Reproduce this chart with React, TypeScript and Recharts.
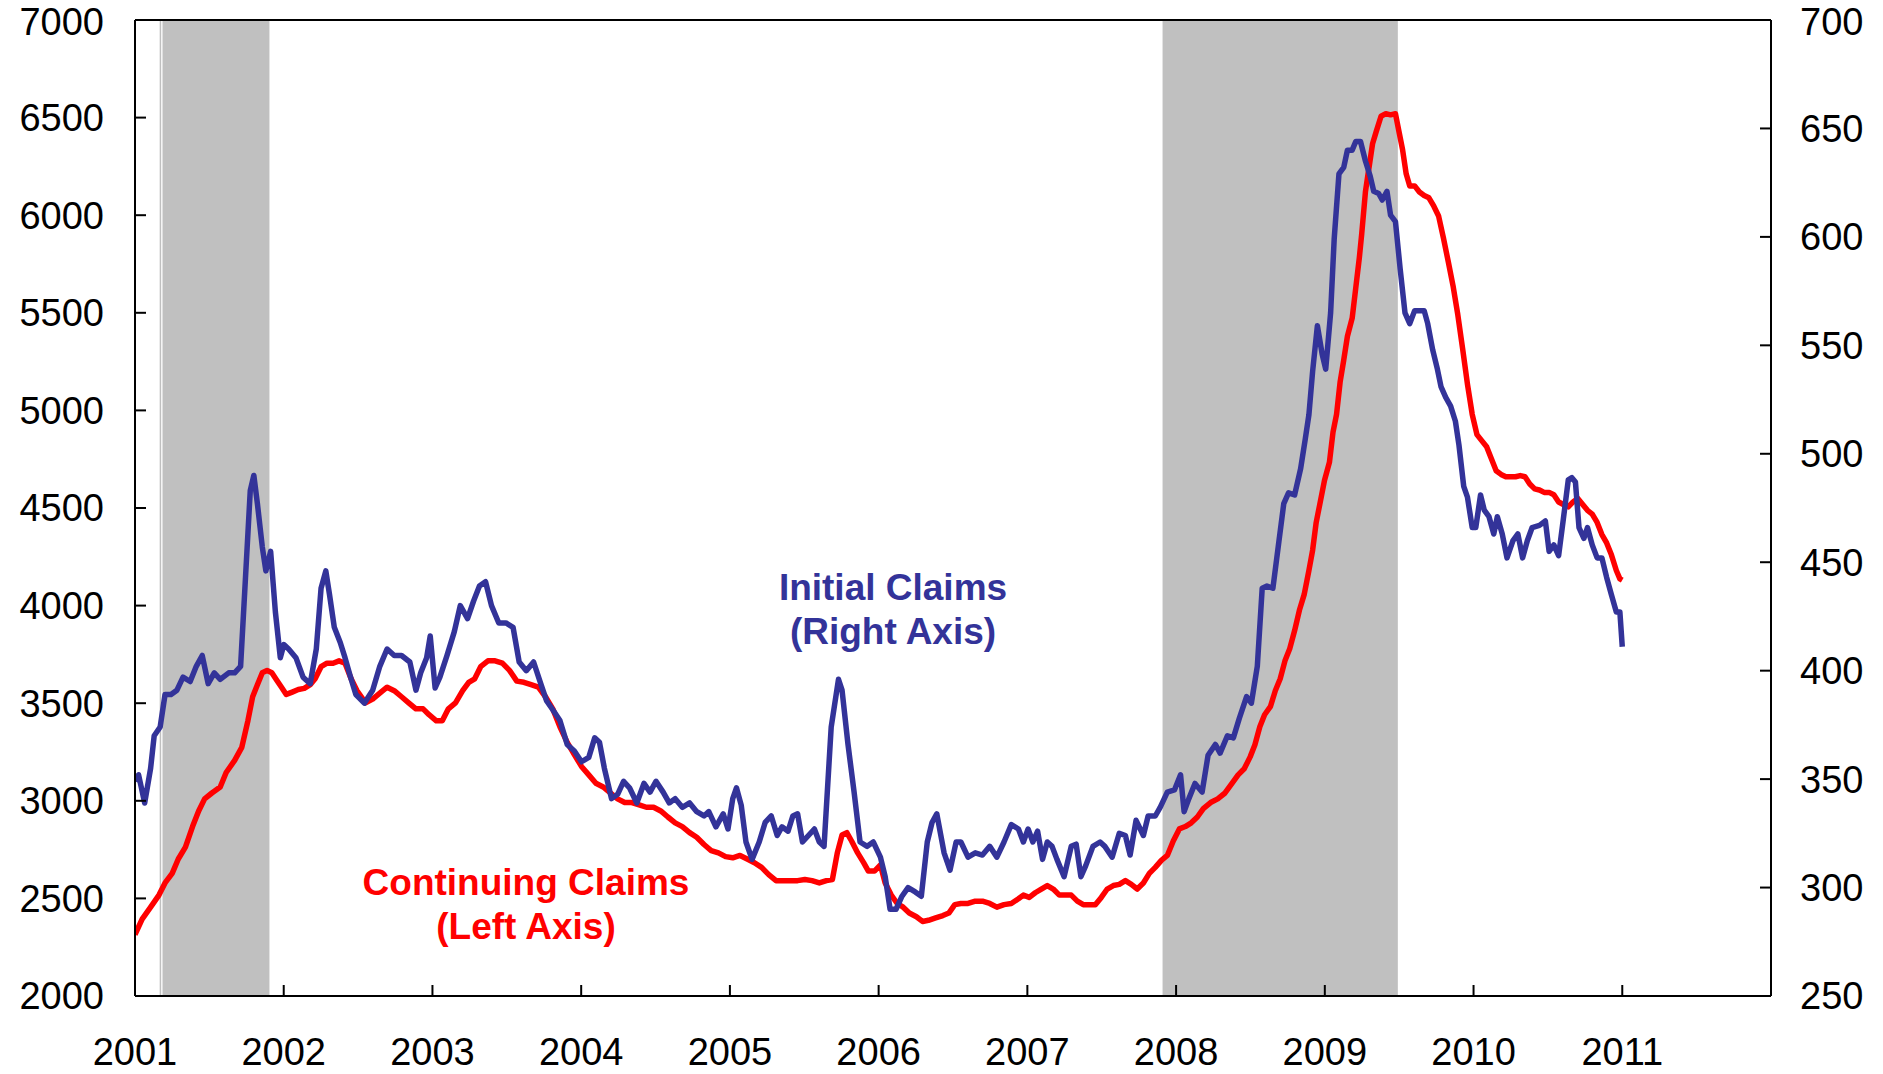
import React from "react";
import {
  LineChart,
  Line,
  XAxis,
  YAxis,
  ReferenceArea,
  ReferenceLine,
} from "recharts";

// [decimal year, thousands]
const initialClaims: [number, number][] = [
  [2001.0, 349], [2001.024, 352], [2001.065, 339], [2001.105, 355], [2001.129, 370],
  [2001.169, 374], [2001.202, 389], [2001.242, 389], [2001.282, 391], [2001.323, 397],
  [2001.371, 395], [2001.412, 402], [2001.452, 407], [2001.492, 394], [2001.533, 399],
  [2001.573, 396], [2001.63, 399], [2001.67, 399], [2001.71, 402], [2001.743, 443],
  [2001.775, 483], [2001.799, 490], [2001.823, 477], [2001.856, 457], [2001.88, 446],
  [2001.912, 455], [2001.944, 427], [2001.977, 406], [2002.001, 412], [2002.033, 410],
  [2002.082, 406], [2002.13, 397], [2002.178, 394], [2002.219, 410], [2002.251, 438],
  [2002.283, 446], [2002.308, 435], [2002.34, 420], [2002.38, 413], [2002.412, 406],
  [2002.445, 398], [2002.485, 389], [2002.542, 385], [2002.598, 391], [2002.646, 402],
  [2002.695, 410], [2002.743, 407], [2002.792, 407], [2002.848, 404], [2002.889, 391],
  [2002.921, 399], [2002.961, 406], [2002.985, 416], [2003.018, 392], [2003.05, 397],
  [2003.098, 407], [2003.147, 418], [2003.187, 430], [2003.236, 424], [2003.276, 432],
  [2003.316, 439], [2003.357, 441], [2003.397, 430], [2003.446, 422], [2003.494, 422],
  [2003.542, 420], [2003.583, 404], [2003.631, 400], [2003.68, 404], [2003.728, 394],
  [2003.768, 386], [2003.809, 382], [2003.857, 377], [2003.906, 366], [2003.954, 363],
  [2004.002, 358], [2004.051, 360], [2004.091, 369], [2004.123, 367], [2004.156, 355],
  [2004.204, 341], [2004.245, 343], [2004.285, 349], [2004.325, 346], [2004.374, 339],
  [2004.422, 348], [2004.463, 344], [2004.503, 349], [2004.551, 344], [2004.592, 339],
  [2004.632, 341], [2004.68, 337], [2004.729, 339], [2004.777, 335], [2004.826, 333],
  [2004.858, 335], [2004.906, 328], [2004.955, 334], [2004.987, 327], [2005.019, 341],
  [2005.044, 346], [2005.076, 338], [2005.108, 321], [2005.149, 313], [2005.197, 321],
  [2005.237, 330], [2005.278, 333], [2005.318, 324], [2005.35, 328], [2005.391, 326],
  [2005.423, 333], [2005.455, 334], [2005.488, 321], [2005.528, 324], [2005.568, 327],
  [2005.601, 321], [2005.633, 319], [2005.681, 374], [2005.73, 396], [2005.754, 391],
  [2005.794, 366], [2005.835, 344], [2005.875, 321], [2005.923, 319], [2005.964, 321],
  [2006.012, 314], [2006.044, 305], [2006.077, 290], [2006.117, 290], [2006.157, 296],
  [2006.198, 300], [2006.246, 298], [2006.287, 296], [2006.327, 321], [2006.359, 330],
  [2006.391, 334], [2006.44, 316], [2006.48, 308], [2006.521, 321], [2006.553, 321],
  [2006.601, 314], [2006.65, 316], [2006.698, 315], [2006.747, 319], [2006.795, 314],
  [2006.843, 321], [2006.892, 329], [2006.94, 327], [2006.973, 321], [2007.005, 327],
  [2007.037, 321], [2007.069, 326], [2007.102, 313], [2007.134, 321], [2007.166, 319],
  [2007.199, 313], [2007.247, 305], [2007.295, 319], [2007.328, 320], [2007.36, 305],
  [2007.392, 310], [2007.441, 319], [2007.489, 321], [2007.521, 319], [2007.57, 314],
  [2007.618, 325], [2007.659, 324], [2007.691, 315], [2007.731, 331], [2007.78, 324],
  [2007.812, 333], [2007.86, 333], [2007.893, 337], [2007.941, 344], [2007.989, 345],
  [2008.03, 352], [2008.054, 335], [2008.086, 341], [2008.127, 348], [2008.175, 344],
  [2008.215, 361], [2008.264, 366], [2008.296, 362], [2008.345, 370], [2008.385, 369],
  [2008.425, 378], [2008.474, 388], [2008.506, 385], [2008.546, 402], [2008.579, 438],
  [2008.611, 439], [2008.651, 438], [2008.692, 460], [2008.724, 477], [2008.756, 482],
  [2008.797, 481], [2008.837, 493], [2008.869, 507], [2008.893, 518], [2008.918, 538],
  [2008.95, 559], [2008.982, 546], [2009.006, 539], [2009.039, 565], [2009.063, 599],
  [2009.095, 629], [2009.127, 632], [2009.152, 640], [2009.184, 640], [2009.208, 644],
  [2009.24, 644], [2009.273, 635], [2009.305, 628], [2009.329, 621], [2009.362, 620],
  [2009.386, 617], [2009.418, 621], [2009.442, 610], [2009.475, 607], [2009.507, 585],
  [2009.539, 565], [2009.571, 560], [2009.604, 566], [2009.636, 566], [2009.668, 566],
  [2009.692, 560], [2009.725, 548], [2009.757, 539], [2009.781, 531], [2009.813, 526],
  [2009.846, 522], [2009.878, 515], [2009.902, 504], [2009.934, 485], [2009.959, 480],
  [2009.991, 466], [2010.015, 466], [2010.047, 481], [2010.072, 474], [2010.104, 471],
  [2010.136, 463], [2010.16, 471], [2010.193, 463], [2010.225, 452], [2010.265, 460],
  [2010.298, 463], [2010.33, 452], [2010.362, 460], [2010.394, 466], [2010.443, 467],
  [2010.483, 469], [2010.508, 455], [2010.54, 458], [2010.572, 453], [2010.604, 470],
  [2010.637, 488], [2010.661, 489], [2010.685, 487], [2010.709, 466], [2010.742, 461],
  [2010.766, 466], [2010.798, 458], [2010.831, 452], [2010.863, 452], [2010.895, 443],
  [2010.927, 435], [2010.96, 427], [2010.984, 427], [2011.0, 411],
];

const continuingClaims: [number, number][] = [
  [2001.0, 2314], [2001.048, 2394], [2001.105, 2455], [2001.161, 2517], [2001.202, 2579],
  [2001.25, 2628], [2001.291, 2702], [2001.339, 2763], [2001.387, 2868], [2001.428, 2948],
  [2001.468, 3010], [2001.517, 3040], [2001.573, 3071], [2001.613, 3145], [2001.67, 3207],
  [2001.718, 3274], [2001.759, 3410], [2001.791, 3533], [2001.823, 3595], [2001.856, 3656],
  [2001.888, 3668], [2001.92, 3656], [2001.952, 3619], [2001.985, 3582], [2002.017, 3545],
  [2002.057, 3557], [2002.098, 3570], [2002.138, 3576], [2002.178, 3595], [2002.211, 3625],
  [2002.251, 3687], [2002.291, 3705], [2002.332, 3705], [2002.372, 3717], [2002.412, 3705],
  [2002.453, 3625], [2002.493, 3564], [2002.55, 3502], [2002.598, 3521], [2002.646, 3551],
  [2002.695, 3582], [2002.743, 3564], [2002.792, 3533], [2002.84, 3502], [2002.889, 3471],
  [2002.937, 3471], [2002.977, 3441], [2003.026, 3410], [2003.066, 3410], [2003.107, 3471],
  [2003.155, 3502], [2003.203, 3564], [2003.244, 3607], [2003.284, 3625], [2003.324, 3687],
  [2003.373, 3717], [2003.421, 3717], [2003.47, 3705], [2003.518, 3668], [2003.567, 3613],
  [2003.615, 3607], [2003.663, 3595], [2003.712, 3582], [2003.76, 3533], [2003.809, 3471],
  [2003.857, 3379], [2003.906, 3299], [2003.954, 3237], [2004.002, 3176], [2004.051, 3133],
  [2004.099, 3090], [2004.148, 3071], [2004.196, 3040], [2004.245, 3010], [2004.293, 2991],
  [2004.341, 2991], [2004.39, 2979], [2004.438, 2967], [2004.487, 2967], [2004.535, 2948],
  [2004.583, 2917], [2004.632, 2887], [2004.68, 2868], [2004.729, 2837], [2004.777, 2813],
  [2004.826, 2776], [2004.874, 2745], [2004.923, 2733], [2004.971, 2714], [2005.019, 2708],
  [2005.068, 2720], [2005.116, 2702], [2005.165, 2683], [2005.213, 2659], [2005.261, 2622],
  [2005.31, 2591], [2005.358, 2591], [2005.407, 2591], [2005.455, 2591], [2005.504, 2597],
  [2005.552, 2591], [2005.601, 2579], [2005.649, 2591], [2005.689, 2597], [2005.722, 2733],
  [2005.754, 2825], [2005.786, 2837], [2005.818, 2794], [2005.859, 2733], [2005.899, 2683],
  [2005.931, 2640], [2005.972, 2640], [2006.012, 2671], [2006.044, 2579], [2006.085, 2517],
  [2006.125, 2474], [2006.165, 2455], [2006.206, 2425], [2006.254, 2406], [2006.295, 2382],
  [2006.335, 2388], [2006.383, 2400], [2006.432, 2412], [2006.472, 2425], [2006.512, 2468],
  [2006.553, 2474], [2006.601, 2474], [2006.65, 2486], [2006.698, 2486], [2006.747, 2474],
  [2006.795, 2455], [2006.843, 2468], [2006.892, 2474], [2006.94, 2498], [2006.973, 2517],
  [2007.013, 2505], [2007.053, 2529], [2007.094, 2548], [2007.134, 2566], [2007.174, 2548],
  [2007.215, 2517], [2007.255, 2517], [2007.295, 2517], [2007.336, 2486], [2007.376, 2468],
  [2007.416, 2468], [2007.457, 2468], [2007.497, 2505], [2007.537, 2548], [2007.578, 2566],
  [2007.618, 2572], [2007.659, 2591], [2007.699, 2572], [2007.739, 2548], [2007.78, 2579],
  [2007.82, 2628], [2007.86, 2659], [2007.901, 2695], [2007.941, 2720], [2007.981, 2794],
  [2008.022, 2856], [2008.062, 2868], [2008.102, 2887], [2008.143, 2917], [2008.183, 2960],
  [2008.232, 2991], [2008.28, 3010], [2008.329, 3040], [2008.377, 3090], [2008.417, 3133],
  [2008.458, 3164], [2008.498, 3225], [2008.53, 3287], [2008.563, 3379], [2008.595, 3441],
  [2008.635, 3484], [2008.667, 3564], [2008.7, 3625], [2008.732, 3717], [2008.764, 3779],
  [2008.797, 3872], [2008.829, 3976], [2008.861, 4056], [2008.893, 4180], [2008.918, 4284],
  [2008.942, 4426], [2008.966, 4518], [2008.998, 4642], [2009.031, 4734], [2009.055, 4888],
  [2009.079, 4980], [2009.103, 5146], [2009.127, 5257], [2009.152, 5380], [2009.184, 5473],
  [2009.208, 5627], [2009.232, 5781], [2009.248, 5904], [2009.273, 6119], [2009.297, 6243],
  [2009.321, 6366], [2009.345, 6427], [2009.378, 6507], [2009.41, 6520], [2009.442, 6514],
  [2009.475, 6520], [2009.499, 6427], [2009.523, 6335], [2009.547, 6212], [2009.571, 6150],
  [2009.604, 6150], [2009.636, 6119], [2009.668, 6101], [2009.7, 6089], [2009.733, 6046],
  [2009.765, 5996], [2009.797, 5885], [2009.83, 5762], [2009.862, 5639], [2009.894, 5491],
  [2009.926, 5319], [2009.959, 5134], [2009.991, 4980], [2010.023, 4876], [2010.055, 4845],
  [2010.088, 4814], [2010.12, 4752], [2010.152, 4691], [2010.185, 4672], [2010.217, 4660],
  [2010.249, 4660], [2010.282, 4660], [2010.314, 4666], [2010.346, 4660], [2010.378, 4623],
  [2010.411, 4598], [2010.443, 4592], [2010.475, 4580], [2010.508, 4580], [2010.54, 4568],
  [2010.572, 4531], [2010.604, 4518], [2010.637, 4506], [2010.669, 4531], [2010.701, 4549],
  [2010.734, 4518], [2010.766, 4488], [2010.798, 4469], [2010.831, 4426], [2010.863, 4364],
  [2010.895, 4321], [2010.927, 4260], [2010.96, 4180], [2010.984, 4137], [2011.0, 4130],
];

const yearTicks = [2001, 2002, 2003, 2004, 2005, 2006, 2007, 2008, 2009, 2010, 2011];
const leftTicks = [2000, 2500, 3000, 3500, 4000, 4500, 5000, 5500, 6000, 6500, 7000];
const rightTicks = [250, 300, 350, 400, 450, 500, 550, 600, 650, 700];

// recession shading (NBER), decimal years
const recessions: [number, number][] = [
  [2001.185, 2001.904],
  [2007.909, 2009.491],
];

const BLUE = "#333399";
const RED = "#FF0000";
const GRAY = "#C0C0C0";
const FONT = "'Liberation Sans', Arial, Helvetica, sans-serif";

const initialData = initialClaims.map(([t, v]) => ({ t, v }));
const continuingData = continuingClaims.map(([t, v]) => ({ t, v }));

const tickStyle = { fill: "#000", fontSize: 38, fontFamily: FONT };
const axisLine = { stroke: "#000", strokeWidth: 2 };
const tickLine = { stroke: "#000", strokeWidth: 2 };

export default function App() {
  return (
    <div style={{ position: "absolute", left: 0, top: 0, width: 1883, height: 1074, background: "#fff", fontFamily: FONT }}>
      <LineChart width={1883} height={1074} margin={{ top: 0, right: 0, bottom: 0, left: 0 }}>
        {recessions.map(([a, b], i) => (
          <ReferenceArea
            key={i}
            x1={a}
            x2={b}
            yAxisId="left"
            fill={GRAY}
            fillOpacity={1}
            stroke="none"
          />
        ))}
        <ReferenceLine x={2001.171} yAxisId="left" stroke={GRAY} strokeWidth={1.5} />
        <XAxis
          dataKey="t"
          type="number"
          domain={[2001, 2012]}
          ticks={yearTicks}
          allowDataOverflow
          height={78}
          tick={tickStyle}
          tickSize={-11}
          tickMargin={53}
          axisLine={axisLine}
          tickLine={tickLine}
        />
        <XAxis
          xAxisId="top"
          orientation="top"
          type="number"
          domain={[2001, 2012]}
          height={20}
          tick={false}
          tickLine={false}
          axisLine={axisLine}
        />
        <YAxis
          yAxisId="left"
          orientation="left"
          domain={[2000, 7000]}
          ticks={leftTicks}
          width={135}
          tick={tickStyle}
          tickSize={-11}
          tickMargin={42}
          axisLine={axisLine}
          tickLine={tickLine}
        />
        <YAxis
          yAxisId="right"
          orientation="right"
          domain={[250, 700]}
          ticks={rightTicks}
          width={112}
          tick={tickStyle}
          tickSize={-11}
          tickMargin={40}
          axisLine={axisLine}
          tickLine={tickLine}
        />
        <Line
          data={continuingData}
          dataKey="v"
          yAxisId="left"
          type="linear"
          stroke={RED}
          strokeWidth={5.5}
          strokeLinejoin="round"
          dot={false}
          isAnimationActive={false}
        />
        <Line
          data={initialData}
          dataKey="v"
          yAxisId="right"
          type="linear"
          stroke={BLUE}
          strokeWidth={5.5}
          strokeLinejoin="round"
          dot={false}
          isAnimationActive={false}
        />
      </LineChart>
      <div
        style={{
          position: "absolute",
          left: 693,
          top: 566,
          width: 400,
          textAlign: "center",
          color: BLUE,
          fontWeight: "bold",
          fontSize: 37,
          lineHeight: "44px",
        }}
      >
        Initial Claims
        <br />
        (Right Axis)
      </div>
      <div
        style={{
          position: "absolute",
          left: 326,
          top: 861,
          width: 400,
          textAlign: "center",
          color: RED,
          fontWeight: "bold",
          fontSize: 37,
          lineHeight: "44px",
        }}
      >
        Continuing Claims
        <br />
        (Left Axis)
      </div>
    </div>
  );
}
